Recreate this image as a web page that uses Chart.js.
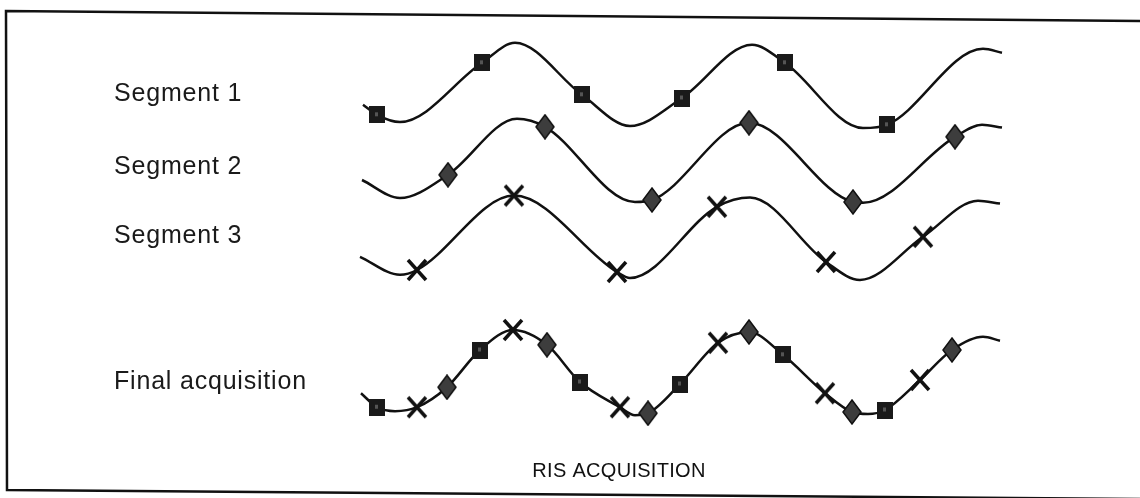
<!DOCTYPE html>
<html>
<head>
<meta charset="utf-8">
<script src="https://cdn.jsdelivr.net/npm/chart.js@4.4.1/dist/chart.umd.min.js"></script>
<style>
    html, body { margin: 0; padding: 0; background: #fff; }
</style>
</head>
<body>
<canvas id="chart" width="1140" height="498"></canvas>
<script>
// time axis in samples, level in signal units (peak ~ 1)
const rowLabels = ["Segment 1", "Segment 2", "Segment 3", "Final acquisition"];
const captionText = "RIS ACQUISITION";

// [time, level]: ends, peaks and troughs
const seg1Curve = [[0.3, -0.5], [4.0, -0.93], [15.5, 1.05], [27.0, -1.03], [39.2, 1.0], [50.3, -1.08], [62.3, 0.9], [64.2, 0.8]];
const seg1Squares = [[1.7, -0.75], [12.2, 0.55], [22.2, -0.25], [32.2, -0.33], [42.5, 0.55], [52.7, -1.0]];

const seg2Curve = [[0.2, -0.48], [4.0, -0.93], [15.7, 1.05], [27.5, -1.03], [50.3, -1.05], [62.2, 0.9], [64.2, 0.83]];
const seg2Diamonds = [[8.8, -0.35], [18.5, 0.85], [29.2, -0.98], [38.9, 0.95], [49.3, -1.03], [59.5, 0.6]];

const seg3Curve = [[0.0, -0.5], [4.0, -0.95], [27.0, -1.03], [39.0, 0.98], [50.0, -1.08], [61.8, 0.9], [64.0, 0.83]];
const seg3Crosses = [[5.7, -0.83], [15.4, 1.03], [25.7, -0.88], [35.7, 0.75], [46.6, -0.63], [56.3, 0.0]];

const finalCurve = [[0.1, -0.53], [3.5, -0.98], [27.5, -1.08], [50.8, -1.05], [62.3, 0.88], [64.0, 0.78]];
const finalSquares = [[1.7, -0.88], [12.0, 0.55], [22.0, -0.25], [32.0, -0.3], [42.3, 0.43], [52.5, -0.95]];
const finalCrosses = [[5.7, -0.88], [15.3, 1.05], [26.0, -0.88], [35.8, 0.73], [46.5, -0.53], [56.0, -0.2]];
const finalDiamonds = [[8.7, -0.38], [18.7, 0.68], [28.8, -1.03], [38.9, 1.0], [49.2, -1.0], [59.2, 0.55]];

// vertical placement of each trace (y units)
const rowBase = [10.33, 8.43, 6.53, 3.15];

function toPoints(list, base) {
    return list.map(function (p) {
        return { x: p[0], y: p[1] + base };
    });
}

function traceLine(lists, base) {
    let all = [];
    lists.forEach(function (l) { all = all.concat(l); });
    all.sort(function (a, b) { return a[0] - b[0]; });
    return {
        data: toPoints(all, base),
        borderColor: "#111",
        borderWidth: 2.5,
        pointRadius: 0,
        cubicInterpolationMode: "monotone",
        tension: 0.4,
        fill: false,
        clip: false,
        order: 2
    };
}

function markSet(list, base, style) {
    return {
        data: toPoints(list, base),
        showLine: false,
        pointStyle: style,
        pointRadius: 9,
        clip: false,
        order: 1
    };
}

function makeSquare() {
    const c = document.createElement("canvas");
    c.width = 16;
    c.height = 17;
    const g = c.getContext("2d");
    g.fillStyle = "#1a1a1a";
    g.fillRect(0, 0, 16, 17);
    g.fillStyle = "#555";
    g.fillRect(6, 6, 3, 4);
    return c;
}

function makeDiamond() {
    const c = document.createElement("canvas");
    c.width = 20;
    c.height = 26;
    const g = c.getContext("2d");
    g.beginPath();
    g.moveTo(10, 1);
    g.lineTo(19, 13);
    g.lineTo(10, 25);
    g.lineTo(1, 13);
    g.closePath();
    g.fillStyle = "#3d3d3d";
    g.fill();
    g.lineWidth = 1.5;
    g.strokeStyle = "#111";
    g.stroke();
    return c;
}

function makeCross() {
    const c = document.createElement("canvas");
    c.width = 22;
    c.height = 24;
    const g = c.getContext("2d");
    g.strokeStyle = "#111";
    g.lineWidth = 3.5;
    g.beginPath();
    g.moveTo(2, 2);
    g.lineTo(20, 22);
    g.moveTo(20, 2);
    g.lineTo(2, 22);
    g.stroke();
    return c;
}

const squareImg = makeSquare();
const diamondImg = makeDiamond();
const crossImg = makeCross();

const frameAndText = {
    id: "frameAndText",
    afterDraw: function (chart) {
        const ctx = chart.ctx;
        ctx.save();
        // scanned frame, slightly tilted
        ctx.strokeStyle = "#111";
        ctx.lineWidth = 2.5;
        ctx.beginPath();
        ctx.moveTo(1140, 21);
        ctx.lineTo(6, 11);
        ctx.lineTo(7, 490);
        ctx.lineTo(1140, 499);
        ctx.stroke();

        ctx.fillStyle = "#1a1a1a";
        ctx.font = '25px "Liberation Sans", Arial, sans-serif';
        ctx.letterSpacing = "0.8px";
        ctx.textBaseline = "alphabetic";
        ctx.textAlign = "left";
        const baselines = [101, 174, 243, 389];
        rowLabels.forEach(function (t, i) {
            ctx.fillText(t, 114, baselines[i]);
        });

        ctx.font = '20px "Liberation Sans", Arial, sans-serif';
        ctx.letterSpacing = "0.3px";
        ctx.textAlign = "center";
        ctx.fillStyle = "#111";
        ctx.fillText(captionText, 619, 477);
        ctx.restore();
    }
};

new Chart(document.getElementById("chart").getContext("2d"), {
    type: "line",
    data: {
        datasets: [
            markSet(seg1Squares, rowBase[0], squareImg),
            markSet(seg2Diamonds, rowBase[1], diamondImg),
            markSet(seg3Crosses, rowBase[2], crossImg),
            markSet(finalSquares, rowBase[3], squareImg),
            markSet(finalCrosses, rowBase[3], crossImg),
            markSet(finalDiamonds, rowBase[3], diamondImg),
            traceLine([seg1Curve, seg1Squares], rowBase[0]),
            traceLine([seg2Curve, seg2Diamonds], rowBase[1]),
            traceLine([seg3Curve, seg3Crosses], rowBase[2]),
            traceLine([finalCurve, finalSquares, finalCrosses, finalDiamonds], rowBase[3])
        ]
    },
    options: {
        responsive: false,
        animation: false,
        devicePixelRatio: 1,
        layout: { padding: 0, autoPadding: false },
        plugins: {
            legend: { display: false },
            tooltip: { enabled: false }
        },
        scales: {
            x: { type: "linear", display: false, min: -36, max: 78 },
            y: { type: "linear", display: false, min: 0, max: 12.45 }
        }
    },
    plugins: [frameAndText]
});
</script>
</body>
</html>
